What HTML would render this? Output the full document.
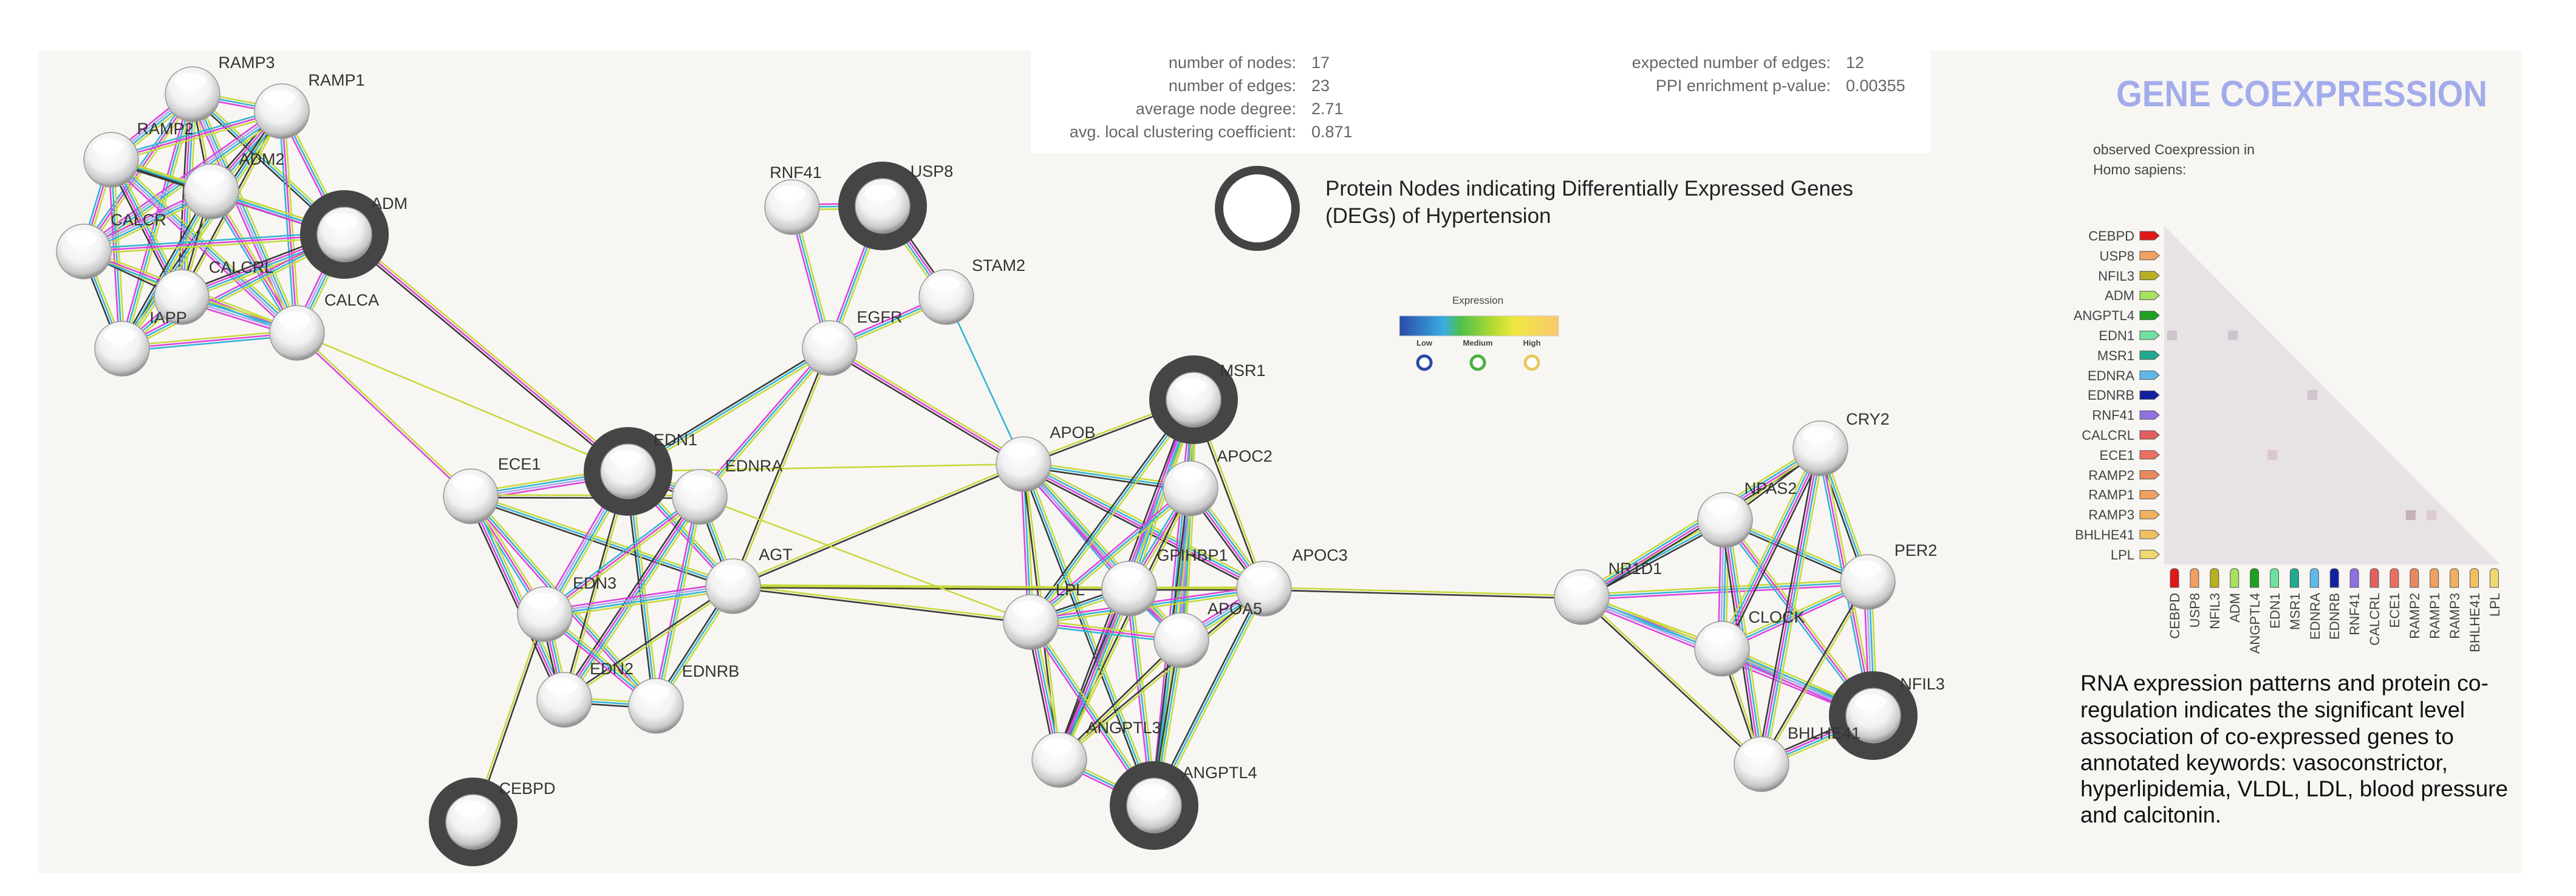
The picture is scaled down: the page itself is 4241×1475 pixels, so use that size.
<!DOCTYPE html>
<html><head><meta charset="utf-8"><style>
html,body{margin:0;padding:0;background:#fff}
svg{display:block}
text{font-family:"Liberation Sans",Arial,sans-serif}
</style></head><body>
<svg id="s" width="4241" height="1475" viewBox="0 0 4241 1475" xmlns="http://www.w3.org/2000/svg">
<defs>
<radialGradient id="g" cx="45%" cy="35%" r="65%">
<stop offset="0" stop-color="#ffffff"/><stop offset="0.55" stop-color="#f2f2f2"/><stop offset="0.85" stop-color="#c8c8c8"/><stop offset="1" stop-color="#8a8a8a"/>
</radialGradient>
<linearGradient id="ex" x1="0" x2="1" y1="0" y2="0">
<stop offset="0" stop-color="#2a4aa8"/><stop offset="0.28" stop-color="#3aaee0"/><stop offset="0.38" stop-color="#4cc04c"/><stop offset="0.6" stop-color="#b8dc30"/><stop offset="0.72" stop-color="#f0e840"/><stop offset="1" stop-color="#f8c870"/>
</linearGradient>
</defs>
<rect x="63" y="83" width="4089" height="1354" fill="#f8f6f3"/>
<rect x="1697" y="83" width="1481" height="169" fill="#ffffff"/>
<g id="edges"></g>
<g id="rings"></g>
<g id="nodes"></g>
<g font-size="27" fill="#333" text-anchor="middle">
<text x="406" y="112">RAMP3</text>
<text x="554" y="141">RAMP1</text>
<text x="272" y="221">RAMP2</text>
<text x="431" y="271">ADM2</text>
<text x="641" y="344">ADM</text>
<text x="228" y="371">CALCR</text>
<text x="397" y="449">CALCRL</text>
<text x="277" y="532">IAPP</text>
<text x="579" y="503">CALCA</text>
<text x="855" y="773">ECE1</text>
<text x="1112" y="733">EDN1</text>
<text x="1241" y="776">EDNRA</text>
<text x="1277" y="922">AGT</text>
<text x="979" y="969">EDN3</text>
<text x="1007" y="1110">EDN2</text>
<text x="1170" y="1114">EDNRB</text>
<text x="868" y="1307">CEBPD</text>
<text x="1310" y="293">RNF41</text>
<text x="1534" y="291">USP8</text>
<text x="1644" y="446">STAM2</text>
<text x="1448" y="531">EGFR</text>
<text x="2046" y="619">MSR1</text>
<text x="1766" y="721">APOB</text>
<text x="2049" y="760">APOC2</text>
<text x="1963" y="923">GPIHBP1</text>
<text x="2173" y="923">APOC3</text>
<text x="1762" y="980">LPL</text>
<text x="2033" y="1011">APOA5</text>
<text x="1850" y="1207">ANGPTL3</text>
<text x="2008" y="1281">ANGPTL4</text>
<text x="2692" y="945">NR1D1</text>
<text x="2915" y="813">NPAS2</text>
<text x="2925" y="1025">CLOCK</text>
<text x="3075" y="699">CRY2</text>
<text x="3154" y="915">PER2</text>
<text x="3165" y="1135">NFIL3</text>
<text x="3003" y="1216">BHLHE41</text>
</g>
<!-- stats -->
<g font-size="27" fill="#666">
<g text-anchor="end">
<text x="2134" y="112">number of nodes:</text>
<text x="2134" y="150">number of edges:</text>
<text x="2134" y="188">average node degree:</text>
<text x="2134" y="226">avg. local clustering coefficient:</text>
<text x="3014" y="112">expected number of edges:</text>
<text x="3014" y="150">PPI enrichment p-value:</text>
</g>
<text x="2159" y="112">17</text>
<text x="2159" y="150">23</text>
<text x="2159" y="188">2.71</text>
<text x="2159" y="226">0.871</text>
<text x="3039" y="112">12</text>
<text x="3039" y="150">0.00355</text>
</g>
<!-- DEG legend -->
<circle cx="2070" cy="343" r="63" fill="#fff" stroke="#444" stroke-width="14"/>
<g font-size="35" fill="#222">
<text x="2182" y="322">Protein Nodes indicating Differentially Expressed Genes</text>
<text x="2182" y="367">(DEGs) of Hypertension</text>
</g>
<!-- expression legend -->
<text x="2433" y="500" font-size="17" fill="#444" text-anchor="middle">Expression</text>
<rect x="2304" y="520" width="262" height="33" fill="url(#ex)" stroke="#ccc"/>
<g font-size="13" fill="#444" text-anchor="middle" font-weight="bold">
<text x="2345" y="569">Low</text><text x="2433" y="569">Medium</text><text x="2522" y="569">High</text>
</g>
<circle cx="2345" cy="597" r="11" fill="#fff" stroke="#2a4aa8" stroke-width="5"/>
<circle cx="2433" cy="597" r="11" fill="#fff" stroke="#4cb040" stroke-width="5"/>
<circle cx="2522" cy="597" r="11" fill="#fff" stroke="#e8c860" stroke-width="5"/>
<!-- coexpression panel -->
<text x="3484" y="175" font-size="60" font-weight="bold" fill="#a3acea" textLength="611" lengthAdjust="spacingAndGlyphs">GENE COEXPRESSION</text>
<g font-size="23" fill="#444">
<text x="3446" y="254">observed Coexpression in</text>
<text x="3446" y="287">Homo sapiens:</text>
</g>
<polygon points="3563,372 4116,929 3563,929" fill="#e6e2e6"/>
<g fill="#cfc4cc">
<rect x="3568" y="544" width="16" height="16"/><rect x="3668" y="544" width="16" height="16"/>
<rect x="3799" y="642" width="16" height="16"/>
<rect x="3733" y="741" width="16" height="16" fill="#dcc8cc"/>
<rect x="3961" y="840" width="16" height="16" fill="#c8b0b8"/><rect x="3995" y="840" width="16" height="16" fill="#dccad2"/>
</g>
<g id="tags"></g>
<g font-size="22" fill="#444" text-anchor="end">
<text x="3514" y="396">CEBPD</text><text x="3514" y="429">USP8</text><text x="3514" y="462">NFIL3</text><text x="3514" y="494">ADM</text><text x="3514" y="527">ANGPTL4</text><text x="3514" y="560">EDN1</text><text x="3514" y="593">MSR1</text><text x="3514" y="626">EDNRA</text><text x="3514" y="658">EDNRB</text><text x="3514" y="691">RNF41</text><text x="3514" y="724">CALCRL</text><text x="3514" y="757">ECE1</text><text x="3514" y="790">RAMP2</text><text x="3514" y="822">RAMP1</text><text x="3514" y="855">RAMP3</text><text x="3514" y="888">BHLHE41</text><text x="3514" y="921">LPL</text>
</g>
<g font-size="22" fill="#444" text-anchor="end">
<text transform="translate(3588,976) rotate(-90)">CEBPD</text>
<text transform="translate(3621,976) rotate(-90)">USP8</text>
<text transform="translate(3654,976) rotate(-90)">NFIL3</text>
<text transform="translate(3687,976) rotate(-90)">ADM</text>
<text transform="translate(3720,976) rotate(-90)">ANGPTL4</text>
<text transform="translate(3753,976) rotate(-90)">EDN1</text>
<text transform="translate(3786,976) rotate(-90)">MSR1</text>
<text transform="translate(3819,976) rotate(-90)">EDNRA</text>
<text transform="translate(3851,976) rotate(-90)">EDNRB</text>
<text transform="translate(3884,976) rotate(-90)">RNF41</text>
<text transform="translate(3917,976) rotate(-90)">CALCRL</text>
<text transform="translate(3950,976) rotate(-90)">ECE1</text>
<text transform="translate(3983,976) rotate(-90)">RAMP2</text>
<text transform="translate(4016,976) rotate(-90)">RAMP1</text>
<text transform="translate(4049,976) rotate(-90)">RAMP3</text>
<text transform="translate(4082,976) rotate(-90)">BHLHE41</text>
<text transform="translate(4115,976) rotate(-90)">LPL</text>
</g>
<g font-size="37" fill="#111">
<text x="3425" y="1137" textLength="672" lengthAdjust="spacingAndGlyphs">RNA expression patterns and protein co-</text>
<text x="3425" y="1181" textLength="633" lengthAdjust="spacingAndGlyphs">regulation indicates the significant level</text>
<text x="3425" y="1225" textLength="615" lengthAdjust="spacingAndGlyphs">association of co-expressed genes to</text>
<text x="3425" y="1268" textLength="605" lengthAdjust="spacingAndGlyphs">annotated keywords: vasoconstrictor,</text>
<text x="3425" y="1311" textLength="704" lengthAdjust="spacingAndGlyphs">hyperlipidemia, VLDL, LDL, blood pressure</text>
<text x="3425" y="1354" textLength="232" lengthAdjust="spacingAndGlyphs">and calcitonin.</text>
</g>
</svg>
<script>
var N={RAMP3:[317,155],RAMP1:[464,183],RAMP2:[183,263],ADM2:[348,315],ADM:[567,386],CALCR:[138,414],CALCRL:[299,489],IAPP:[201,574],CALCA:[489,548],
ECE1:[775,817],EDN1:[1034,776],EDNRA:[1152,818],AGT:[1207,965],EDN3:[897,1011],EDN2:[929,1152],EDNRB:[1080,1162],CEBPD:[779,1353],
RNF41:[1304,341],USP8:[1453,339],STAM2:[1558,489],EGFR:[1366,573],
MSR1:[1965,658],APOB:[1685,764],APOC2:[1960,804],GPIHBP1:[1859,969],APOC3:[2081,969],LPL:[1697,1024],APOA5:[1945,1054],ANGPTL3:[1744,1251],ANGPTL4:[1900,1326],
NR1D1:[2604,983],NPAS2:[2840,856],CLOCK:[2835,1068],CRY2:[2997,738],PER2:[3075,958],NFIL3:[3084,1178],BHLHE41:[2900,1258]};
var DEG=['ADM','EDN1','CEBPD','USP8','MSR1','ANGPTL4','NFIL3'];
var Y='#c6d93a',M='#dd44dd',C='#33b5d6',K='#3a3a3a',P='#a8a8f0',G='#7ccf5a';
var sets=[[Y,C,M,K],[Y,C,M],[Y,C,P,M],[Y,K],[Y,C,K],[Y,M,C]];
var E=[];
function clique(list,off){for(var i=0;i<list.length;i++)for(var j=i+1;j<list.length;j++)E.push([list[i],list[j],sets[(i*3+j+off)%sets.length]]);}
clique(['RAMP3','RAMP1','RAMP2','ADM2','ADM','CALCR','CALCRL','IAPP','CALCA'],0);
clique(['ECE1','EDN1','EDNRA','AGT','EDN3','EDN2','EDNRB'],1);
clique(['APOB','MSR1','APOC2','GPIHBP1','APOC3','LPL','APOA5','ANGPTL3','ANGPTL4'],2);
clique(['NR1D1','NPAS2','CLOCK','CRY2','PER2','NFIL3','BHLHE41'],3);
E.push(['ADM','EDN1',[Y,M,K]],['CALCA','ECE1',[Y,M]],['CALCA','EDN1',[Y]],['CEBPD','EDN3',[Y,K]],
['EGFR','EDN1',[Y,C,K]],['EGFR','EDNRA',[Y,C,M]],['EGFR','AGT',[Y,K]],['EGFR','RNF41',[M,C,Y]],['EGFR','USP8',[M,C,Y]],['EGFR','STAM2',[M,C,Y]],
['RNF41','USP8',[M,C,Y]],['USP8','STAM2',[K,M,C,Y]],['EGFR','APOB',[Y,M,K]],['STAM2','APOB',[C]],
['AGT','APOB',[Y,K]],['AGT','LPL',[Y,K]],['AGT','GPIHBP1',[Y,K]],['AGT','APOC3',[Y]],['EDNRA','LPL',[Y]],['EDN1','APOB',[Y]],
['APOC3','NR1D1',[Y,K]]);
var ns='http://www.w3.org/2000/svg';
function el(t,a,p){var e=document.createElementNS(ns,t);for(var k in a)e.setAttribute(k,a[k]);p.appendChild(e);return e;}
var eg=document.getElementById('edges');
E.forEach(function(e){var a=N[e[0]],b=N[e[1]],c=e[2];var dx=b[0]-a[0],dy=b[1]-a[1],L=Math.sqrt(dx*dx+dy*dy);var px=-dy/L,py=dx/L;
c.forEach(function(col,i){var o=(i-(c.length-1)/2)*4.2;el('line',{x1:a[0]+px*o,y1:a[1]+py*o,x2:b[0]+px*o,y2:b[1]+py*o,stroke:col,'stroke-width':2.6},eg);});});
var rg=document.getElementById('rings'),ng=document.getElementById('nodes');
DEG.forEach(function(n){var p=N[n];el('circle',{cx:p[0],cy:p[1],r:59,fill:'none',stroke:'#454545','stroke-width':28},rg);});
for(var n in N){var p=N[n];el('circle',{cx:p[0],cy:p[1],r:45,fill:'url(#g)',stroke:'#9a9a9a','stroke-width':1.5},ng);
el('ellipse',{cx:p[0]-4,cy:p[1]-22,rx:26,ry:13,fill:'#fff',opacity:0.85},ng);}
var cols=['#e01818','#f0a060','#b8b020','#a8e060','#20a020','#70e0a0','#20a890','#60b8e8','#1020a0','#9070e0','#e06060','#e87060','#e88860','#f0a060','#f0b060','#f0c060','#f0d870'];
var tg=document.getElementById('tags');
cols.forEach(function(c,i){var y=388+i*32.8;el('path',{d:'M3523,'+(y-7)+' h24 l8,7 l-8,7 h-24 z',fill:c,stroke:'#555','stroke-width':1},tg);
var x=3580+i*32.9;el('path',{d:'M'+(x-7)+',967 v-24 q0,-7 7,-7 q7,0 7,7 v24 z',fill:c,stroke:'#555','stroke-width':1},tg);});
</script>
</body></html>
